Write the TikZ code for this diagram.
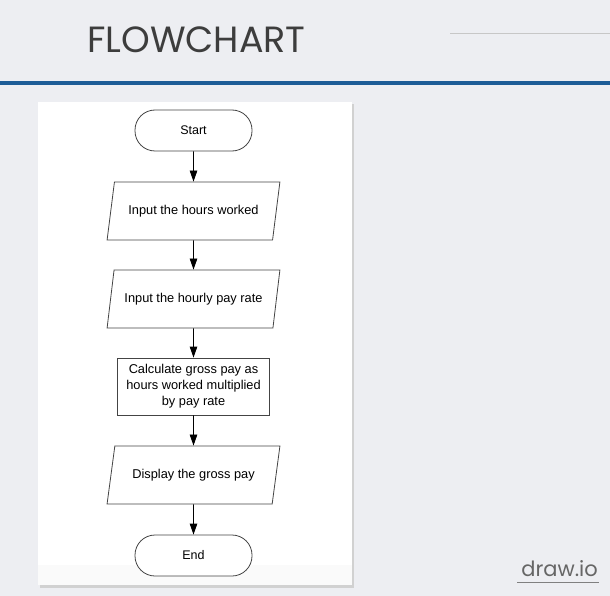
\documentclass[tikz,border=0pt]{standalone}
\usepackage{fontspec}
\setmainfont{Liberation Sans}
\newfontfamily\titlefont{Poppins}
\usetikzlibrary{shapes.geometric,arrows.meta}
\definecolor{bg}{HTML}{EDEEF2}
\definecolor{bluebar}{HTML}{1D5C97}
\definecolor{titlegray}{HTML}{3D3D3D}
\definecolor{linegray}{HTML}{444444}
\tikzset{
  shape line/.style={draw=linegray, line width=0.8pt, fill=white},
  term/.style={shape line, rounded corners=20pt, minimum width=117pt, minimum height=41pt, font=\fontsize{12.5}{14}\selectfont},
  io/.style={shape line, trapezium, trapezium left angle=72, trapezium right angle=108, trapezium stretches=true, minimum width=173pt, minimum height=58pt, inner xsep=0pt, font=\fontsize{12.8}{14}\selectfont},
  proc/.style={shape line, minimum width=152pt, minimum height=57pt, align=center, font=\fontsize{12.8}{16}\selectfont},
  flow/.style={draw=black, line width=0.8pt, -{Triangle[length=11pt,width=7.5pt]}}
}
\begin{document}
\begin{tikzpicture}[x=1pt,y=-1pt]
\useasboundingbox (0,0) rectangle (610,596);
\fill[bg] (0,0) rectangle (610,596);
% title
\node[anchor=base west, inner sep=0pt, text=titlegray, font=\titlefont\fontsize{36.5}{40}\selectfont] (title) at (87,53) {FLOWCHART};
\coordinate (hl1) at (450,33);
\coordinate (hl2) at (610,33);
\draw[draw=black!22, line width=0.7pt] (hl1) -- (hl2);
\fill[bluebar] (0,81) rectangle (610,85.5);
% panel
\fill[black!18] (39.5,104) rectangle (354,587.5);
\fill[white] (38,102) rectangle (352,585);
\fill[black!2] (38,565) rectangle (352,585);
% nodes
\node[term] (start) at (193.5,130.5) {Start};
\node[io] (in1) at (193.5,211) {Input the hours worked};
\node[io] (in2) at (193.5,299) {Input the hourly pay rate};
\node[proc] (calc) at (193.5,386.5) {Calculate gross pay as\\hours worked multiplied\\by pay rate};
\node[io] (disp) at (193.5,475) {Display the gross pay};
\node[term] (end) at (193.5,555.5) {End};
% connectors
\draw[flow] (start) -- (in1);
\draw[flow] (in1) -- (in2);
\draw[flow] (in2) -- (calc);
\draw[flow] (calc) -- (disp);
\draw[flow] (disp) -- (end);
% logo
\node[anchor=base east, inner sep=0pt, text=black!60, font=\titlefont\fontsize{21}{24}\selectfont] (logo) at (598,576) {draw.io};
\coordinate (ul1) at (517,582.5);
\coordinate (ul2) at (599,582.5);
\draw[black!50, line width=0.9pt] (ul1) -- (ul2);
\end{tikzpicture}
\end{document}
